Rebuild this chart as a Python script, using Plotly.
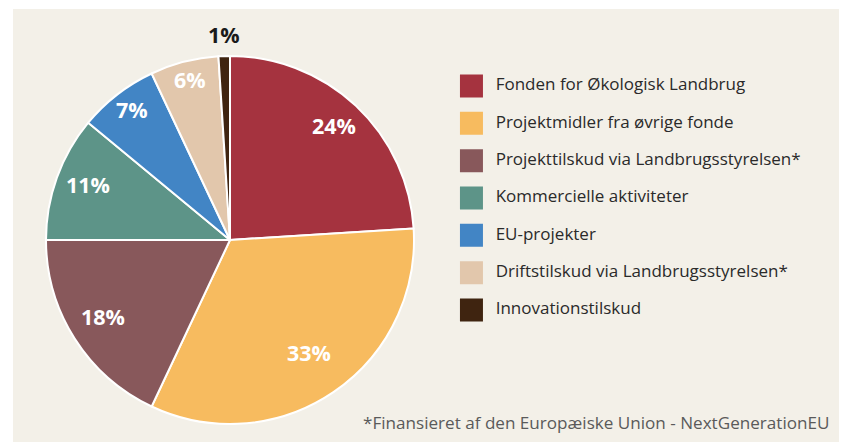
import math
import plotly.graph_objects as go

categories = [
    "Fonden for Økologisk Landbrug",
    "Projektmidler fra øvrige fonde",
    "Projekttilskud via Landbrugsstyrelsen*",
    "Kommercielle aktiviteter",
    "EU-projekter",
    "Driftstilskud via Landbrugsstyrelsen*",
    "Innovationstilskud",
]
values = [24, 33, 18, 11, 7, 6, 1]
colors = ["#a5333f", "#f7bb5f", "#88585b", "#5d9488", "#4285c5", "#e2c7ac", "#3f2410"]
footnote = "*Finansieret af den Europæiske Union - NextGenerationEU"

# style: radial position of each value label as a fraction of the pie radius
label_radius = [0.825, 0.766, 0.82, 0.82, 0.87, 0.88, 1.12]
label_color = ["white"] * 6 + ["#1a1a1a"]
label_yshift = [4] * 6 + [0]

W, H = 847, 442
BG = "#f3f0e8"
FONT = "Open Sans"

fig = go.Figure()

# pie geometry in figure px
cx, cy, r = 222, 232, 184
dom_x = [(cx - r) / W, (cx + r) / W]
dom_y = [1 - (cy + r) / H, 1 - (cy - r) / H]

fig.add_trace(go.Pie(
    labels=categories,
    values=values,
    sort=False,
    direction="clockwise",
    rotation=0,
    marker=dict(colors=colors, line=dict(color="white", width=2)),
    textinfo="none",
    showlegend=False,
    hoverinfo="label+value",
    domain=dict(x=dom_x, y=dom_y),
))

# value labels, placed at each slice's mid-angle (derived from the data)
total = sum(values)
cum = 0
for v, fr, col, ys in zip(values, label_radius, label_color, label_yshift):
    mid = (cum + v / 2) / total * 2 * math.pi
    cum += v
    lr = r * fr
    fig.add_annotation(
        x=(cx + lr * math.sin(mid)) / W,
        y=1 - (cy - lr * math.cos(mid)) / H,
        xref="paper", yref="paper",
        xanchor="center", yanchor="middle", yshift=ys,
        text=f"<b>{v}%</b>",
        showarrow=False,
        font=dict(family=FONT, size=21.5, color=col),
    )

# legend drawn as a categorical scatter on hidden axes
fig.add_trace(go.Scatter(
    x=[0] * len(categories),
    y=list(range(len(categories))),
    mode="markers+text",
    marker=dict(symbol="square", size=23, color=colors, line=dict(width=0)),
    text=["  " + c for c in categories],
    textposition="middle right",
    textfont=dict(family=FONT, size=17, color="#2a2a2a"),
    hoverinfo="text",
    showlegend=False,
    xaxis="x", yaxis="y",
))

fig.add_annotation(
    x=823 / W, y=1 - 414 / H, xref="paper", yref="paper",
    xanchor="right", yanchor="middle",
    text=footnote, showarrow=False,
    font=dict(family=FONT, size=17.1, color="#5a5a5a"),
)

fig.add_shape(type="rect", xref="paper", yref="paper",
              x0=5 / W, x1=1, y0=0, y1=1 - 1 / H,
              fillcolor=BG, line=dict(width=0), layer="below")

fig.update_layout(
    width=W, height=H,
    margin=dict(l=0, r=0, t=0, b=0),
    paper_bgcolor="white",
    plot_bgcolor="rgba(0,0,0,0)",
    xaxis=dict(domain=[431.5 / W, 1.0], range=[-1, 12], visible=False, fixedrange=True),
    yaxis=dict(domain=[1 - 320.67 / H, 1 - 59.33 / H], range=[6.5, -0.5],
               visible=False, fixedrange=True),
    showlegend=False,
)

fig.write_html("out.html")
